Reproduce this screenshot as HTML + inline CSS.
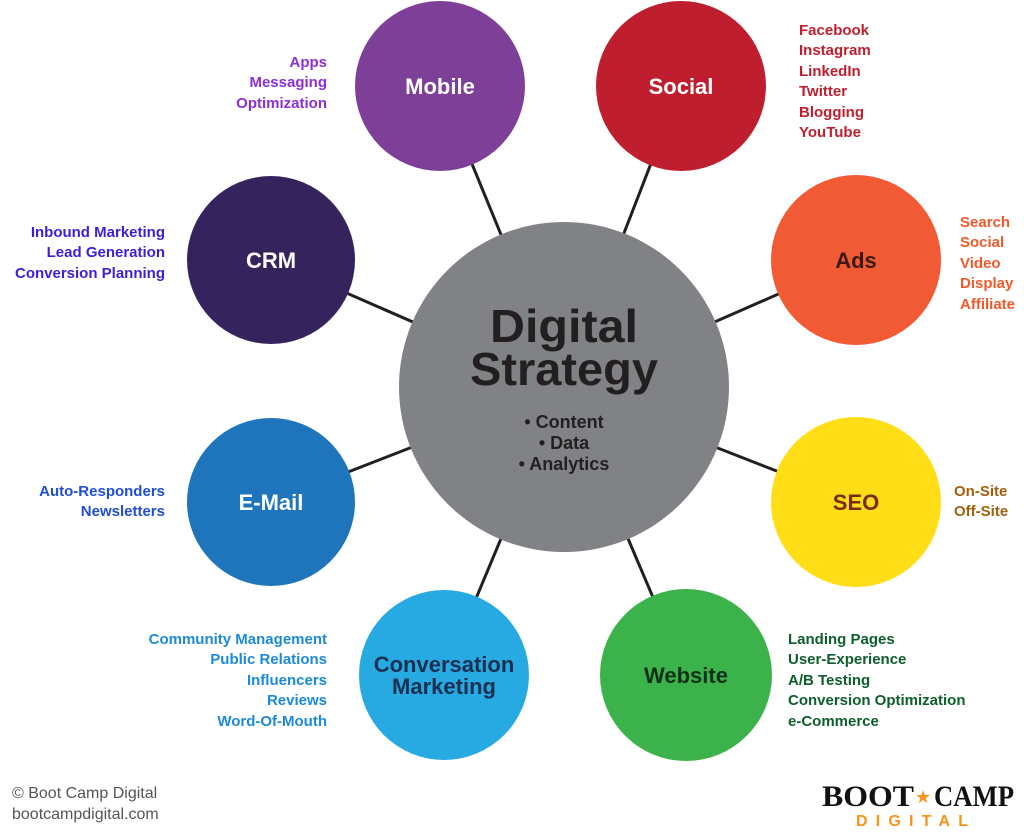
<!DOCTYPE html>
<html><head><meta charset="utf-8"><style>
html,body{margin:0;padding:0;background:#fff;}
svg{display:block;}
text{font-family:"Liberation Sans","DejaVu Sans",sans-serif;font-weight:bold;}
</style></head><body>
<svg width="1024" height="834" viewBox="0 0 1024 834">
<g stroke="#231f20" stroke-width="3">
<line x1="564" y1="388" x2="440" y2="86"/>
<line x1="564" y1="388" x2="681" y2="86"/>
<line x1="564" y1="388" x2="271" y2="260"/>
<line x1="564" y1="388" x2="856" y2="260"/>
<line x1="564" y1="388" x2="271" y2="502"/>
<line x1="564" y1="388" x2="856" y2="502"/>
<line x1="564" y1="388" x2="444" y2="675"/>
<line x1="564" y1="388" x2="686" y2="675"/>
</g>
<circle cx="564" cy="387" r="165" fill="#808285"/>
<circle cx="440" cy="86" r="85" fill="#7e3f98"/>
<circle cx="681" cy="86" r="85" fill="#be1e2d"/>
<circle cx="271" cy="260" r="84" fill="#35235d"/>
<circle cx="856" cy="260" r="85" fill="#f05a35"/>
<circle cx="271" cy="502" r="84" fill="#1f75bb"/>
<circle cx="856" cy="502" r="85" fill="#ffdd17"/>
<circle cx="444" cy="675" r="85" fill="#27a9e1"/>
<circle cx="686" cy="675" r="86" fill="#3bb34a"/>

<g text-anchor="middle" fill="#231f20">
<text x="564" y="342" font-size="46" textLength="148" lengthAdjust="spacingAndGlyphs">Digital</text>
<text x="564" y="385" font-size="46" textLength="188" lengthAdjust="spacingAndGlyphs">Strategy</text>
<text x="564" y="428" font-size="18">• Content</text>
<text x="564" y="449" font-size="18">• Data</text>
<text x="564" y="470" font-size="18">• Analytics</text>
</g>
<g text-anchor="middle" font-size="22">
<text x="440" y="94" fill="#fff">Mobile</text>
<text x="681" y="94" fill="#fff">Social</text>
<text x="271" y="268" fill="#fff">CRM</text>
<text x="856" y="268" fill="#3a1a12">Ads</text>
<text x="271" y="510" fill="#fff">E-Mail</text>
<text x="856" y="510" fill="#7a2a10">SEO</text>
<text x="444" y="672" fill="#1b3050">Conversation</text>
<text x="444" y="694" fill="#1b3050">Marketing</text>
<text x="686" y="683" fill="#10301a">Website</text>
</g>
<g font-size="15" text-anchor="end">
<g fill="#8b2fd8"><text x="327" y="67">Apps</text><text x="327" y="87">Messaging</text><text x="327" y="108">Optimization</text></g>
<g fill="#3b1fd6"><text x="165" y="237">Inbound Marketing</text><text x="165" y="257">Lead Generation</text><text x="165" y="278">Conversion Planning</text></g>
<g fill="#1f4fd0"><text x="165" y="496">Auto-Responders</text><text x="165" y="516">Newsletters</text></g>
<g fill="#1c8ad8"><text x="327" y="644">Community Management</text><text x="327" y="664">Public Relations</text><text x="327" y="685">Influencers</text><text x="327" y="705">Reviews</text><text x="327" y="726">Word-Of-Mouth</text></g>
</g>
<g font-size="15">
<g fill="#be1e2d"><text x="799" y="35">Facebook</text><text x="799" y="55">Instagram</text><text x="799" y="76">LinkedIn</text><text x="799" y="96">Twitter</text><text x="799" y="117">Blogging</text><text x="799" y="137">YouTube</text></g>
<g fill="#f05a28"><text x="960" y="227">Search</text><text x="960" y="247">Social</text><text x="960" y="268">Video</text><text x="960" y="288">Display</text><text x="960" y="309">Affiliate</text></g>
<g fill="#a0600a"><text x="954" y="496">On-Site</text><text x="954" y="516">Off-Site</text></g>
<g fill="#0d5e2a"><text x="788" y="644">Landing Pages</text><text x="788" y="664">User-Experience</text><text x="788" y="685">A/B Testing</text><text x="788" y="705">Conversion Optimization</text><text x="788" y="726">e-Commerce</text></g>
</g>
<g font-size="16" fill="#555">
<text x="12" y="798" style="font-weight:normal">© Boot Camp Digital</text>
<text x="12" y="819" style="font-weight:normal">bootcampdigital.com</text>
</g>
<text x="822" y="806" font-size="30" fill="#111" style="font-family:'Liberation Serif',serif;font-weight:900" textLength="92" lengthAdjust="spacingAndGlyphs">BOOT</text>
<text x="915" y="803" font-size="18" fill="#f7941d">★</text>
<text x="934" y="806" font-size="30" fill="#111" style="font-family:'Liberation Serif',serif;font-weight:900" textLength="80" lengthAdjust="spacingAndGlyphs">CAMP</text>
<text x="856" y="826" font-size="16" fill="#f7941d" textLength="122" letter-spacing="10">DIGITAL</text>
</svg>
</body></html>
